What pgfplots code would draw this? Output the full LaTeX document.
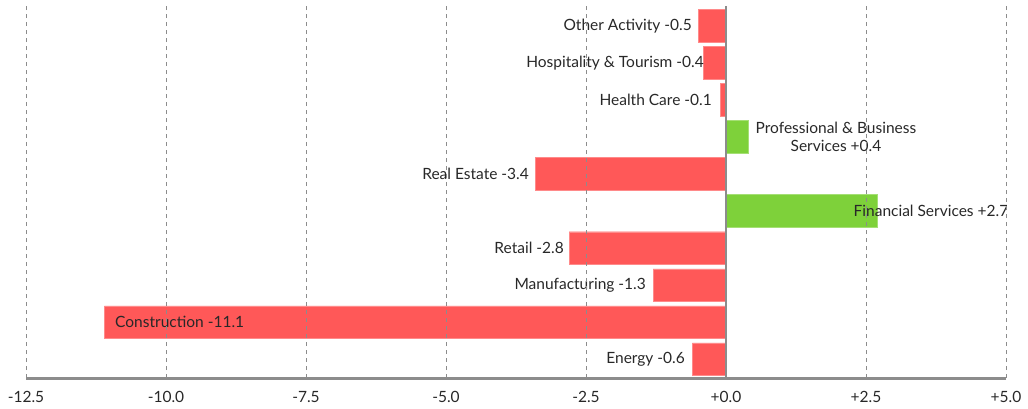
\documentclass[border=0pt]{standalone}
\usepackage{pgfplots}
\pgfplotsset{compat=1.18}
\usepackage{fontspec}
\setmainfont{Lato}
\definecolor{negred}{RGB}{255,88,88}
\definecolor{posgreen}{RGB}{126,209,58}
\definecolor{txt}{RGB}{40,40,40}
\begin{document}
\begin{tikzpicture}
\path[use as bounding box] (-26pt,-30pt) rectangle (1002pt,378pt);
\begin{axis}[
  at={(0pt,0pt)}, anchor=south west,
  scale only axis,
  width=980pt, height=372pt,
  xmin=-12.5, xmax=5, ymin=-0.51, ymax=9.53,
  xbar, bar width=0.877, bar shift=0pt,
  axis x line*=bottom, axis y line=none,
  every outer x axis line/.append style={line width=3pt, color=black!45, -},
  xtick={-12.5,-10,-7.5,-5,-2.5,0,2.5,5},
  xticklabels={-12.5,-10.0,-7.5,-5.0,-2.5,+0.0,+2.5,+5.0},
  major tick length=0pt,
  xticklabel style={font=\fontsize{15.5}{18}\selectfont, text=txt, yshift=-10pt},
  xmajorgrids,
  grid style={dashed, black!45, line width=0.8pt, dash pattern=on 4pt off 4pt},
  extra x ticks={0}, extra x tick labels={},
  extra x tick style={grid style={solid, black!45, line width=1.3pt}},
  axis on top,
  ytick=\empty,
  nodes={font=\fontsize{15.5}{18.5}\selectfont, text=txt},
]
\addplot[fill=negred, draw=negred!70!white, line width=0.4pt] coordinates {
  (-0.5,9) (-0.4,8) (-0.1,7) (-3.4,5) (-2.8,3) (-1.3,2) (-11.1,1) (-0.6,0)
};
\addplot[fill=posgreen, draw=posgreen!70!white, line width=0.4pt] coordinates {
  (0.4,6) (2.7,4)
};
\node[anchor=east, inner sep=0pt] at (axis cs:-0.607,9) {Other Activity -0.5};
\node[anchor=east, inner sep=0pt] at (axis cs:-0.393,8) {Hospitality \& Tourism -0.4};
\node[anchor=east, inner sep=0pt] at (axis cs:-0.25,7) {Health Care -0.1};
\node[align=center, inner sep=0pt] at (axis cs:1.964,6) {Professional \& Business\\Services +0.4};
\node[anchor=east, inner sep=0pt] at (axis cs:-3.518,5) {Real Estate -3.4};
\node[inner sep=0pt] at (axis cs:3.66,4) {Financial Services +2.7};
\node[anchor=east, inner sep=0pt] at (axis cs:-2.893,3) {Retail -2.8};
\node[anchor=east, inner sep=0pt] at (axis cs:-1.429,2) {Manufacturing -1.3};
\node[anchor=west, inner sep=0pt] at (axis cs:-10.91,1) {Construction -11.1};
\node[anchor=east, inner sep=0pt] at (axis cs:-0.732,0) {Energy -0.6};
\end{axis}
\end{tikzpicture}
\end{document}
